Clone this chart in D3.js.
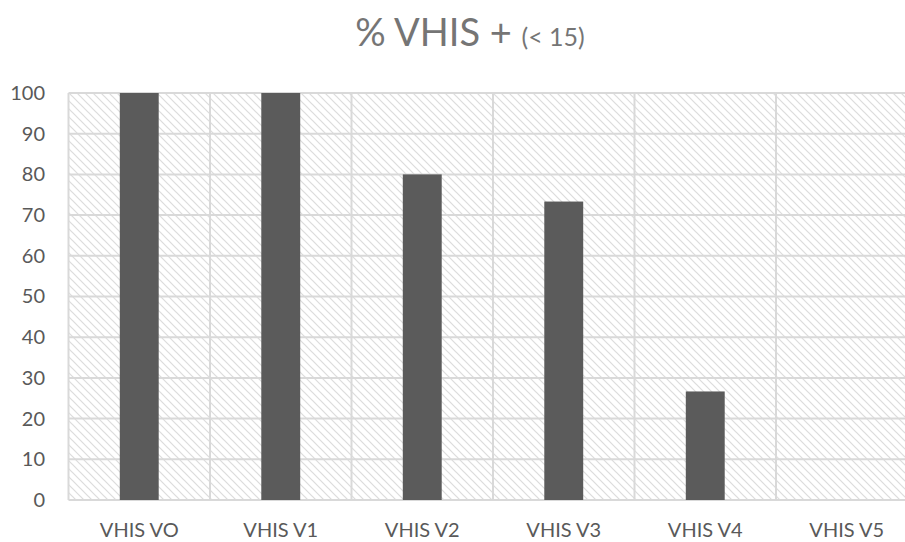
<!DOCTYPE html>
<html>
<head>
<meta charset="utf-8">
<script src="https://cdn.jsdelivr.net/npm/d3@7/dist/d3.min.js"></script>
<style>
  html, body { margin: 0; padding: 0; background: #fff; }
  svg { display: block; }
</style>
</head>
<body>
<div id="chart"></div>
<script>
// Chart data
const categories = ["VHIS VO", "VHIS V1", "VHIS V2", "VHIS V3", "VHIS V4", "VHIS V5"];
const values = [100, 100, 80, 73.33, 26.67, 0];
const yTicks = [0, 10, 20, 30, 40, 50, 60, 70, 80, 90, 100];
const titleMain = "% VHIS +";
const titleSub = "(< 15)";

const W = 905, H = 542;
const plot = { left: 68.5, right: 917.5, top: 93, bottom: 500 };
const FONT = "Lato, 'Open Sans', sans-serif";

const svg = d3.select("#chart").append("svg")
  .attr("width", W).attr("height", H)
  .style("font-family", FONT);

// diagonal hatch fill for the plot area
const defs = svg.append("defs");
const pat = defs.append("pattern")
  .attr("id", "hatch")
  .attr("patternUnits", "userSpaceOnUse")
  .attr("width", 8).attr("height", 8);
pat.append("rect").attr("width", 8).attr("height", 8).attr("fill", "#ffffff");
pat.append("path")
  .attr("d", "M0,0 L8,8 M-2,6 L2,10 M6,-2 L10,2")
  .attr("stroke", "#dcdcdc")
  .attr("stroke-width", 1.2)
  .attr("fill", "none");

const x = d3.scaleBand()
  .domain(categories)
  .range([plot.left, plot.right])
  .padding(0);

const y = d3.scaleLinear()
  .domain([0, 100])
  .range([plot.bottom, plot.top]);

// background
svg.append("rect")
  .attr("x", plot.left).attr("y", plot.top)
  .attr("width", plot.right - plot.left)
  .attr("height", plot.bottom - plot.top)
  .attr("fill", "url(#hatch)");

// horizontal gridlines
svg.append("g")
  .selectAll("line")
  .data(yTicks)
  .join("line")
  .attr("x1", plot.left).attr("x2", plot.right)
  .attr("y1", d => y(d)).attr("y2", d => y(d))
  .attr("stroke", "#d9d9d9")
  .attr("stroke-width", 2);

// vertical gridlines at category boundaries
const bounds = categories.map(c => x(c)).concat([plot.right]);
svg.append("g")
  .selectAll("line")
  .data(bounds)
  .join("line")
  .attr("x1", d => d).attr("x2", d => d)
  .attr("y1", plot.top).attr("y2", plot.bottom)
  .attr("stroke", "#d9d9d9")
  .attr("stroke-width", 2);

// bars
const barW = x.bandwidth() * 0.275;
svg.append("g")
  .selectAll("rect")
  .data(values)
  .join("rect")
  .attr("x", (d, i) => x(categories[i]) + x.bandwidth() / 2 - barW / 2)
  .attr("y", d => y(d))
  .attr("width", barW)
  .attr("height", d => y(0) - y(d))
  .attr("fill", "#5b5b5b");

// y axis labels
const yAxis = d3.axisLeft(y).tickValues(yTicks).tickSize(0).tickPadding(0);
const gy = svg.append("g")
  .attr("transform", `translate(45,0)`)
  .call(yAxis);
gy.select(".domain").remove();
gy.selectAll("text")
  .attr("fill", "#595959")
  .style("font-size", "20px")
  .style("font-family", FONT);

// x axis labels
const xAxis = d3.axisBottom(x).tickSize(0).tickPadding(0);
const gx = svg.append("g")
  .attr("transform", `translate(0,${plot.bottom})`)
  .call(xAxis);
gx.select(".domain").remove();
gx.selectAll("text")
  .attr("dy", null)
  .attr("y", 37)
  .attr("fill", "#595959")
  .style("font-size", "20px")
  .style("font-family", FONT);

// title
const title = svg.append("text")
  .attr("x", 470).attr("y", 46)
  .attr("text-anchor", "middle")
  .attr("fill", "#757575");
title.append("tspan").style("font-size", "38px").text(titleMain + " ");
title.append("tspan").style("font-size", "25px").text(titleSub);
</script>
</body>
</html>
